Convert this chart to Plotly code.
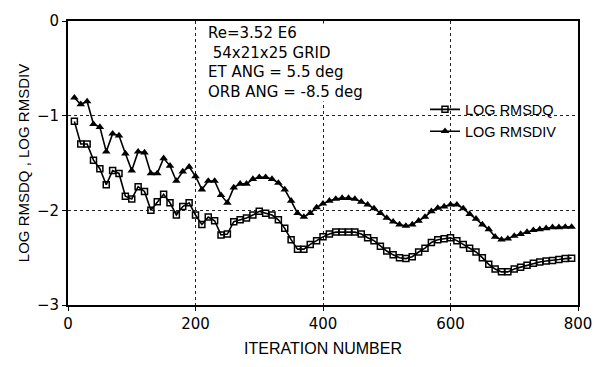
import plotly.graph_objects as go

# Iteration numbers (every 10 iterations)
iterations = list(range(10, 800, 10))

log_rmsdq = [
    -1.06, -1.30, -1.30, -1.47, -1.56, -1.73, -1.58, -1.61, -1.85, -1.88,
    -1.75, -1.80, -2.00, -1.91, -1.83, -1.92, -2.05, -1.96, -1.92, -2.05,
    -2.15, -2.07, -2.11, -2.26, -2.25, -2.12, -2.10, -2.08, -2.05, -2.01,
    -2.03, -2.05, -2.10, -2.19, -2.31, -2.41, -2.41, -2.36, -2.32, -2.28,
    -2.25, -2.23, -2.23, -2.23, -2.23, -2.25, -2.29, -2.32, -2.38, -2.43,
    -2.47, -2.50, -2.51, -2.49, -2.44, -2.40, -2.34, -2.31, -2.30, -2.29,
    -2.32, -2.36, -2.40, -2.44, -2.50, -2.57, -2.62, -2.65, -2.65, -2.62,
    -2.60, -2.58, -2.56, -2.545, -2.535, -2.53, -2.52, -2.51, -2.505,
]

log_rmsdiv = [
    -0.81, -0.88, -0.85, -1.09, -1.12, -1.38, -1.19, -1.21, -1.40, -1.58,
    -1.38, -1.39, -1.61, -1.61, -1.45, -1.53, -1.69, -1.59, -1.54, -1.64,
    -1.78, -1.69, -1.69, -1.84, -1.92, -1.76, -1.72, -1.72, -1.67, -1.65,
    -1.65, -1.67, -1.71, -1.78, -1.90, -2.03, -2.07, -2.03, -1.97, -1.93,
    -1.90, -1.88, -1.87, -1.87, -1.88, -1.91, -1.94, -1.98, -2.03, -2.08,
    -2.12, -2.15, -2.165, -2.15, -2.11, -2.07, -2.01, -1.975, -1.96, -1.94,
    -1.94, -1.98, -2.04, -2.09, -2.15, -2.20, -2.28, -2.31, -2.30, -2.27,
    -2.25, -2.23, -2.21, -2.20, -2.19, -2.18, -2.18, -2.175, -2.175,
]

x_ticks = [0, 200, 400, 600, 800]
y_ticks = [0, -1, -2, -3]

note_lines = ["Re=3.52 E6", " 54x21x25 GRID", "ET ANG = 5.5 deg", "ORB ANG = -8.5 deg"]

SANS = "Liberation Sans, Arial, sans-serif"
WIDE = "DejaVu Sans, Verdana, sans-serif"

fig = go.Figure()

fig.add_trace(go.Scatter(
    x=iterations, y=log_rmsdq, name="LOG RMSDQ",
    mode="lines+markers",
    line=dict(color="black", width=1.6),
    marker=dict(symbol="square-open", size=6, color="black", line=dict(width=1.5)),
))

fig.add_trace(go.Scatter(
    x=iterations, y=log_rmsdiv, name="LOG RMSDIV",
    mode="lines+markers",
    line=dict(color="black", width=1.6),
    marker=dict(symbol="triangle-up", size=7.5, color="black"),
))

fig.add_annotation(
    text="<br>".join(note_lines),
    xref="paper", yref="paper", x=0.272, y=0.993,
    xanchor="left", yanchor="top", align="left",
    showarrow=False, bgcolor="white", borderpad=0,
    font=dict(family=WIDE, size=15, color="black"),
)

axis_common = dict(
    showline=True, linecolor="black", linewidth=2, mirror=True,
    showgrid=True, gridcolor="#222", gridwidth=1, griddash="dot",
    zeroline=False, ticks="outside", ticklen=4, tickcolor="black",
    tickfont=dict(family=WIDE, size=15, color="black"),
)

fig.update_xaxes(
    range=[0, 800], tickvals=x_ticks,
    title=dict(text="ITERATION NUMBER", font=dict(family=SANS, size=16, color="black"), standoff=11),
    **axis_common,
)
fig.update_yaxes(
    range=[-3, 0], tickvals=y_ticks,
    title=dict(text="LOG RMSDQ , LOG RMSDIV", font=dict(family=SANS, size=15, color="black"), standoff=4),
    **axis_common,
)

fig.update_layout(
    width=604, height=367,
    margin=dict(l=68, r=18, t=15, b=61),
    paper_bgcolor="white", plot_bgcolor="white",
    showlegend=True,
    legend=dict(
        x=0.70, y=0.745, xanchor="left", yanchor="top",
        bgcolor="rgba(0,0,0,0)", font=dict(family=SANS, size=14.5, color="black"),
        tracegroupgap=0, itemwidth=30,
    ),
)

fig.write_html("out.html")
